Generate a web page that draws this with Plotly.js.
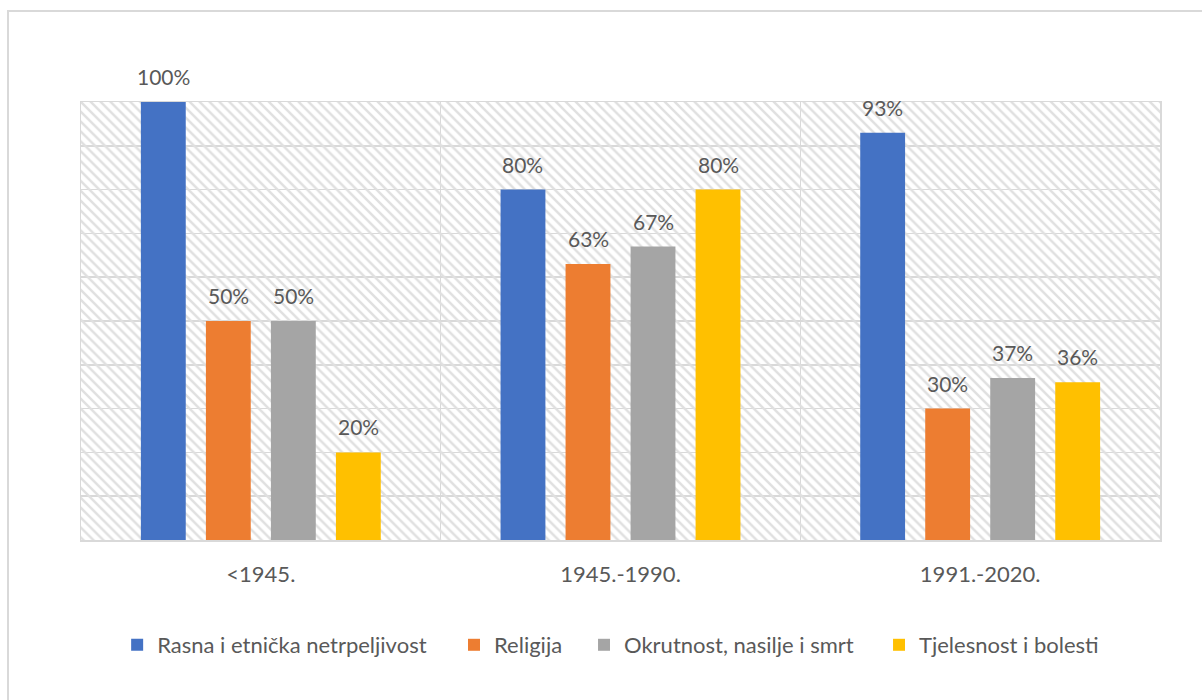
<!DOCTYPE html>
<html>
<head>
<meta charset="utf-8">
<script src="https://cdn.plot.ly/plotly-3.0.1.min.js"></script>
<style>
  html, body { margin: 0; padding: 0; background: #ffffff; }
  #frame { position: absolute; left: 7px; top: 10px; width: 1300px; height: 800px;
           border-left: 2px solid #d9d9d9; border-top: 2px solid #d9d9d9; }
  #chart { position: absolute; left: 0; top: 0; width: 1202px; height: 700px; }
</style>
</head>
<body>
<div id="frame"></div>
<div id="chart"></div>
<script>
// ---- data ----
const categories = ["<1945.", "1945.-1990.", "1991.-2020."];
const seriesNames = ["Rasna i etnička netrpeljivost", "Religija", "Okrutnost, nasilje i smrt", "Tjelesnost i bolesti"];
const rasna = [100, 80, 93];
const religija = [50, 63, 30];
const okrutnost = [50, 67, 37];
const tjelesnost = [20, 80, 36];
const seriesValues = [rasna, religija, okrutnost, tjelesnost];
const colors = ["#4472C4", "#ED7D31", "#A5A5A5", "#FFC000"];

const FONT = "Lato, 'Open Sans', sans-serif";
const TXT = "#595959";
const GRID = "#d9d9d9";
const bargap = 0.277;
const bargroupgap = 0.31;
const legendNames = ["legend", "legend2", "legend3", "legend4"];

const traces = [];
// hatched background of the plot area
traces.push({
  type: "bar", x: [0.5], y: [100], width: [1], xaxis: "x", yaxis: "y",
  marker: { color: "rgba(0,0,0,0)", line: { width: 0 },
            pattern: { shape: "\\", fgcolor: "#e0e0e0", size: 7, solidity: 0.35 } },
  showlegend: false, hoverinfo: "skip"
});
seriesNames.forEach((name, i) => {
  traces.push({
    type: "bar", name: name, x: categories, y: seriesValues[i],
    xaxis: "x2", yaxis: "y",
    marker: { color: colors[i], line: { width: 0 } },
    legend: legendNames[i], hoverinfo: "x+y"
  });
});

// data labels
const nSeries = seriesNames.length;
const slot = (1 - bargap) / nSeries;
const annotations = [];
seriesValues.forEach((vals, i) => {
  vals.forEach((v, j) => {
    annotations.push({
      xref: "x2", yref: "y", x: j + (i - (nSeries - 1) / 2) * slot, y: v,
      text: v + "%", showarrow: false, yanchor: "bottom", yshift: 11,
      font: { family: FONT, size: 21, color: TXT }
    });
  });
});

const legendX = [0.0335, 0.3457, 0.4662, 0.7396];
const legendCommon = (x) => ({
  x: x, y: -0.2397, xanchor: "left", yanchor: "middle", orientation: "h",
  bgcolor: "rgba(0,0,0,0)", borderwidth: 0,
  font: { family: FONT, size: 22, color: TXT }, itemwidth: 30
});

const layout = {
  width: 1202, height: 700,
  margin: { l: 81, r: 42, t: 102, b: 160, pad: 0 },
  paper_bgcolor: "rgba(0,0,0,0)", plot_bgcolor: "rgba(0,0,0,0)",
  barmode: "group", bargap: bargap, bargroupgap: bargroupgap,
  font: { family: FONT, size: 22, color: TXT },
  xaxis: { range: [0, 1], showticklabels: false, showgrid: false, zeroline: false,
           showline: true, mirror: true, linecolor: GRID, linewidth: 1.5, ticks: "" , fixedrange: true},
  xaxis2: { overlaying: "x", anchor: "y", type: "category", range: [-0.5, 2.5],
            showgrid: true, tickson: "boundaries", gridcolor: GRID, gridwidth: 1.5,
            ticks: "", showline: false, zeroline: false, ticklabelstandoff: 19,
            tickfont: { family: FONT, size: 22, color: TXT } },
  yaxis: { range: [0, 100], dtick: 10, showticklabels: false, showgrid: true,
           gridcolor: GRID, gridwidth: 1.5, zeroline: false, showline: true, mirror: true,
           linecolor: GRID, linewidth: 1.5, ticks: "" },
  legend: legendCommon(legendX[0]),
  legend2: legendCommon(legendX[1]),
  legend3: legendCommon(legendX[2]),
  legend4: legendCommon(legendX[3]),
  annotations: annotations,
  showlegend: true
};

Plotly.newPlot("chart", traces, layout, { displayModeBar: false, staticPlot: true });
</script>
</body>
</html>
